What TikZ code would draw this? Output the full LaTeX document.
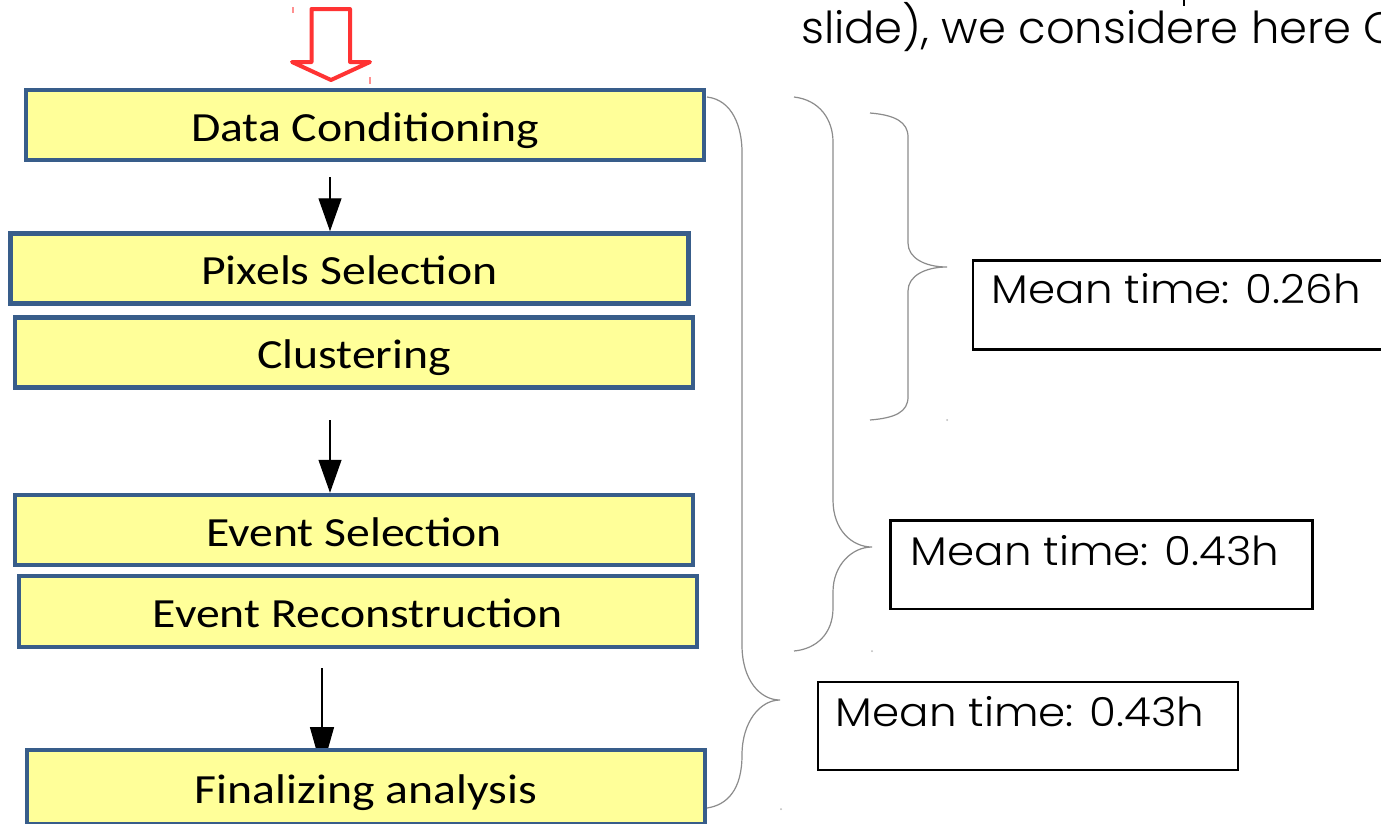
\documentclass[tikz,border=0pt]{standalone}
\usepackage{fontspec}
\setmainfont{Carlito}[FakeStretch=1.15]
\newfontfamily\gothic{Poppins Light}[FakeStretch=1.02]
\newfontfamily\gothicwide{Poppins Light}[FakeStretch=1.09]
\usetikzlibrary{arrows.meta}
\definecolor{boxfill}{HTML}{FFFF99}
\definecolor{boxline}{HTML}{385D8A}
\definecolor{redarrow}{HTML}{FF3333}
\definecolor{redtick}{HTML}{FF9090}
\definecolor{bracegray}{HTML}{8C8C8C}

\begin{document}
\begin{tikzpicture}[x=1pt,y=-1pt,
  stage/.style={draw=boxline, fill=boxfill, line width=4.5pt,
    minimum width=678pt, minimum height=70pt, inner sep=0pt,
    text height=32pt, text depth=0pt,
    font=\fontsize{41.5pt}{48pt}\selectfont},
  flow/.style={line width=1.3pt, -{Triangle[width=23pt,length=33pt]}},
  timebox/.style={draw=black, line width=2.5pt, inner sep=0pt},
  timetext/.style={anchor=base west, inner sep=0pt,
    font=\gothicwide\fontsize{40pt}{48pt}\selectfont},
  brace/.style={draw=bracegray, line width=1.2pt},
  speck/.style={fill=bracegray!60},
]
\clip (0,0) rectangle (1381,823);
\fill[white] (0,0) rectangle (1381,823);

% heading line, running on past the right edge
\node[anchor=base west, inner sep=0pt, font=\gothic\fontsize{44pt}{50pt}\selectfont]
  (intro) at (801,43) {slide), we considere here C};
\draw[line width=2pt] (1184,0) -- (1184,6);

% hollow input arrow
\draw[redarrow, line width=4pt, line join=round]
  (311.5,9) -- (350,9) -- (350,62) -- (370,62) -- (331,80)
  -- (292,62) -- (311.5,62) -- cycle;
\draw[redtick, line width=1.5pt] (293,7) -- (293,13);
\draw[redtick, line width=1.5pt] (370,77) -- (370,84);

% flow arrow anchors
\coordinate (a1) at (330,177);
\coordinate (a2) at (330,420);
\coordinate (a3) at (322,668);
\coordinate (a3end) at (322,770);

% processing stages
\node[stage] (dc) at (365,125)   {Data Conditioning};
\node[stage] (ps) at (349.5,268.5) {Pixels Selection};
\node[stage] (cl) at (354,352.5) {Clustering};
\node[stage] (es) at (354,530)   {Event Selection};
\node[stage, minimum height=71pt] (er) at (358,611.5) {Event Reconstruction};
\draw[flow] (a1) -- (a1 |- ps.north);
\draw[flow] (a2) -- (a2 |- es.north);
\draw[line width=1.3pt, -{Triangle[width=24pt,length=43pt]}] (a3) -- (a3end);
\node[stage, minimum height=74pt] (fa) at (366,787) {Finalizing analysis};

% braces
\draw[brace] (707,97) .. controls (733,100) and (742,128) .. (742,152)
  -- (742,645) .. controls (742,680) and (760,700) .. (780,700)
  .. controls (760,700) and (742,722) .. (742,755)
  .. controls (742,790) and (727,805) .. (707,808);
\draw[brace] (794,97) .. controls (820,100) and (833,120) .. (833,142)
  -- (833,500) .. controls (833,530) and (852,547) .. (872,547)
  .. controls (852,547) and (833,565) .. (833,592)
  -- (833,608) .. controls (833,634) and (816,649) .. (794,651);
\draw[brace] (870,113) .. controls (895,115) and (908,122) .. (908,137)
  -- (908,243) .. controls (908,258) and (925,267) .. (947,267)
  .. controls (925,267) and (908,276) .. (908,291)
  -- (908,397) .. controls (908,412) and (895,418) .. (870,420);
\fill[speck] (947,420) circle (1pt);
\fill[speck] (872,651) circle (1pt);
\fill[speck] (781,809) circle (1pt);

% timing boxes
\node[timebox, minimum width=427pt, minimum height=89pt] (tA) at (1186.5,305) {};
\node[timetext] (tAt) at ([shift={(20,44)}]tA.north west) {Mean time: 0.26h};
\node[timebox, minimum width=422pt, minimum height=88.5pt] (tB) at (1101.5,564.75) {};
\node[timetext] (tBt) at ([shift={(21.5,46)}]tB.north west) {Mean time: 0.43h};
\node[timebox, minimum width=420pt, minimum height=88pt] (tC) at (1028,726) {};
\node[timetext] (tCt) at ([shift={(19,46)}]tC.north west) {Mean time: 0.43h};
\end{tikzpicture}
\end{document}
